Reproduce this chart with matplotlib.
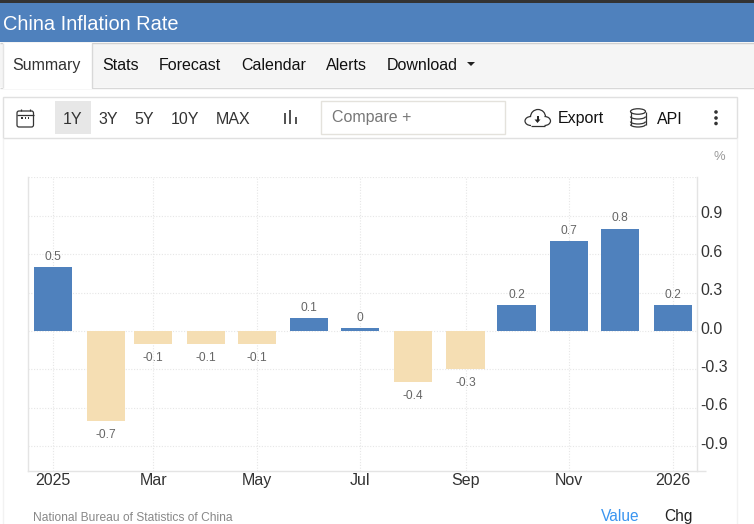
import matplotlib
matplotlib.use("Agg")
import matplotlib.pyplot as plt
from matplotlib.patches import Rectangle, FancyBboxPatch, Ellipse, Polygon, Arc
from matplotlib.transforms import ScaledTranslation
import datetime as dt

plt.rcParams['font.family'] = ['Liberation Sans', 'DejaVu Sans']

# ---- data ----
months = ['2025-01-01', '2025-02-01', '2025-03-01', '2025-04-01', '2025-05-01', '2025-06-01', '2025-07-01',
          '2025-08-01', '2025-09-01', '2025-10-01', '2025-11-01', '2025-12-01', '2026-01-01']
values = [0.5, -0.7, -0.1, -0.1, -0.1, 0.1, 0.02, -0.4, -0.3, 0.2, 0.7, 0.8, 0.2]
value_labels = ['0.5', '-0.7', '-0.1', '-0.1', '-0.1', '0.1', '0', '-0.4', '-0.3', '0.2', '0.7', '0.8', '0.2']
x_ticks = ['2025-01-01', '2025-03-01', '2025-05-01', '2025-07-01', '2025-09-01', '2025-11-01', '2026-01-01']
x_tick_labels = ['2025', 'Mar', 'May', 'Jul', 'Sep', 'Nov', '2026']
y_ticks = [-0.9, -0.6, -0.3, 0.0, 0.3, 0.6, 0.9, 1.2]
y_tick_labels = ['-0.9', '-0.6', '-0.3', '0.0', '0.3', '0.6', '0.9', '']
tabs = ['Stats', 'Forecast', 'Calendar', 'Alerts', 'Download']
ranges = ['1Y', '3Y', '5Y', '10Y', 'MAX']

BLUE = '#4f81bd'
TAN = '#f5deb3'
W, H = 754, 524
def px(p):
    return p * 0.72

fig = plt.figure(figsize=(W / 100, H / 100), dpi=100, facecolor='white')

# ---- page chrome, in pixel coordinates ----
ui = fig.add_axes([0, 0, 1, 1], zorder=0)
ui.set_xlim(0, W); ui.set_ylim(H, 0); ui.axis('off')
def rect(x0, y0, x1, y1, fc='none', ec='none', lw=1, z=1):
    ui.add_patch(Rectangle((x0, y0), x1 - x0, y1 - y0, fc=fc, ec=ec, lw=lw, zorder=z))
def line(xs, ys, c='#333333', lw=1.0, z=3):
    ui.plot(xs, ys, color=c, lw=lw, zorder=z, solid_capstyle='butt')

rect(0, 0, W, 3, fc='#333333')
rect(0, 3, W, 42, fc=BLUE)
line([0, W], [42.5, 42.5], '#d0d0d0', 1)
ui.text(3, 24.5, 'China Inflation Rate', color='white', fontsize=px(20), va='center', ha='left')

rect(0, 43, W, 87, fc='#f5f5f5')
line([0, W], [87.5, 87.5], '#d8d8d8', 1)
rect(2.5, 43, 91.5, 89, fc='white', z=4)
line([2.5, 2.5], [43, 88], '#e4e4e4', 1, 5)
line([91.5, 91.5], [43, 88], '#d8d8d8', 1, 5)
ui.text(12.5, 65.5, 'Summary', color='#333333', fontsize=px(16), va='center', ha='left', zorder=6)
for label, x in zip(tabs, [102.5, 159, 241, 326, 387]):
    ui.text(x, 65.5, label, color='#111111', fontsize=px(16), va='center', ha='left', zorder=6)
ui.add_patch(Polygon([[467, 62], [475, 62], [471, 66]], fc='#222222', ec='none', zorder=4))

# side rules of the panel
line([2.5, 2.5], [138, H], '#f2f2f2', 1)
line([737, 737], [138, H], '#f2f2f2', 1)

# toolbar
rect(3, 96.5, 736.5, 137.5, fc='white', ec='#e0e0e0', lw=1, z=2)
rect(55, 101, 91, 134, fc='#e7e7e7', z=3)
for label, x in zip(ranges, [73, 108.5, 144.5, 185, 233]):
    ui.text(x, 120, label, color='#333333', fontsize=px(16), va='center', ha='center', zorder=4)
rect(321, 100.5, 505, 133.5, fc='white', ec='#e4e2dc', lw=1, z=3)
ui.text(332, 117.5, 'Compare +', color='#777777', fontsize=px(16), va='center', ha='left', zorder=4)
ui.text(558, 119, 'Export', color='#111111', fontsize=px(16), va='center', ha='left', zorder=4)
ui.text(657, 119, 'API', color='#111111', fontsize=px(16), va='center', ha='left', zorder=4)

# calendar icon
ui.add_patch(FancyBboxPatch((17, 111), 16.5, 16, boxstyle='round,pad=0,rounding_size=2', fc='none', ec='#333333', lw=0.9, zorder=4))
line([17, 33.5], [114.5, 114.5], '#333333', 0.9, 4)
line([21, 21], [108.5, 111], '#333333', 0.9, 4)
line([30, 30], [108.5, 111], '#333333', 0.9, 4)
for x in (22, 25.2, 28.5):
    rect(x - 0.7, 117.3, x + 0.7, 118.7, fc='#333333', z=4)
# bar icon
rect(283.5, 113, 285.5, 124, fc='#555555', z=4)
rect(288.8, 109.5, 291, 124, fc='#555555', z=4)
rect(294.5, 117, 296.5, 124, fc='#555555', z=4)
# cloud icon
for cx, cy, w, h, a1, a2 in [(531, 121, 12, 9, 90, 270), (538, 117, 15, 15, 180, 360), (544.5, 121, 12, 9, 270, 90)]:
    ui.add_patch(Arc((cx, cy), w, h, theta1=a1, theta2=a2, ec='#333333', lw=0.9, zorder=4))
line([531, 545], [125.5, 125.5], '#333333', 0.9, 4)
line([537.5, 537.5], [115.5, 120], '#222222', 1.4, 4)
ui.add_patch(Polygon([[534.5, 119.5], [540.5, 119.5], [537.5, 123]], fc='#222222', ec='none', zorder=4))
# database icon
ui.add_patch(Ellipse((638, 111.5), 15, 5.5, fc='none', ec='#333333', lw=0.9, zorder=4))
for y in (116.5, 121.5, 124.5):
    ui.add_patch(Arc((638, y), 15, 5, theta1=0, theta2=180, ec='#333333', lw=0.9, zorder=4))
line([630.5, 630.5], [111.5, 124.5], '#333333', 0.9, 4)
line([645.5, 645.5], [111.5, 124.5], '#333333', 0.9, 4)
# kebab
for y in (112, 118, 123.5):
    ui.add_patch(Ellipse((716, y), 3.6, 3.6, fc='#333333', ec='none', zorder=4))

ui.text(719, 156.5, '%', color='#999999', fontsize=px(13), va='center', ha='center')
ui.text(33, 518, 'National Bureau of Statistics of China', color='#888888', fontsize=px(12), va='center', ha='left')
ui.text(620.5, 516.5, 'Value', color='#3a95f0', fontsize=px(15.5), va='center', ha='center')
ui.text(678, 516.5, 'Chg', color='#222222', fontsize=px(15.5), va='center', ha='center')

# ---- chart ----
L, R, T, B = 27.5, 696.5, 177, 471
ax = fig.add_axes([L / W, 1 - B / H, (R - L) / W, (B - T) / H], zorder=2)
ax.patch.set_alpha(0)

dates = [dt.date.fromisoformat(d) for d in months]
tick_dates = [dt.date.fromisoformat(d) for d in x_ticks]
colors = [BLUE if v > 0 else TAN for v in values]
ax.bar(dates, values, width=22.5, color=colors, zorder=3)

ax.set_xlim(dt.date(2025, 1, 1) - dt.timedelta(days=15), dt.date(2025, 1, 1) + dt.timedelta(days=379.6))
ax.set_ylim(-(B - 331) / 128, (331 - T) / 128)

ax.set_xticks(tick_dates)
ax.set_xticklabels(x_tick_labels, fontsize=px(16), color='#333333')
ax.set_yticks(y_ticks)
ax.set_yticklabels(y_tick_labels, fontsize=px(16), color='#333333')
ax.yaxis.tick_right()
ax.tick_params(axis='both', length=0)
ax.tick_params(axis='x', pad=1.5)
ax.tick_params(axis='y', pad=3)
shift = ScaledTranslation(0, 3.5 / 100, fig.dpi_scale_trans)
for lbl in ax.get_yticklabels():
    lbl.set_transform(lbl.get_transform() + shift)
ax.grid(True, color='#e6e6e6', lw=0.8, ls=(0, (1, 1.5)), zorder=0)
ax.set_axisbelow(True)

ax.spines['top'].set_visible(False)
for s in ('left', 'right', 'bottom'):
    ax.spines[s].set_color('#e4e4e4')
    ax.spines[s].set_linewidth(1)
# the base rule runs on a little past the plot
line([R, 706], [B, B], '#e4e4e4', 1)

for d, v, lab in zip(dates, values, value_labels):
    up = v > 0
    ax.annotate(lab, (d - dt.timedelta(days=0.5), v), xytext=(0, px(10.5) if up else px(-14)), textcoords='offset points',
                ha='center', va='center', fontsize=px(12), color='#666666', zorder=5)

fig.savefig('out.png', dpi=100, facecolor='white')
